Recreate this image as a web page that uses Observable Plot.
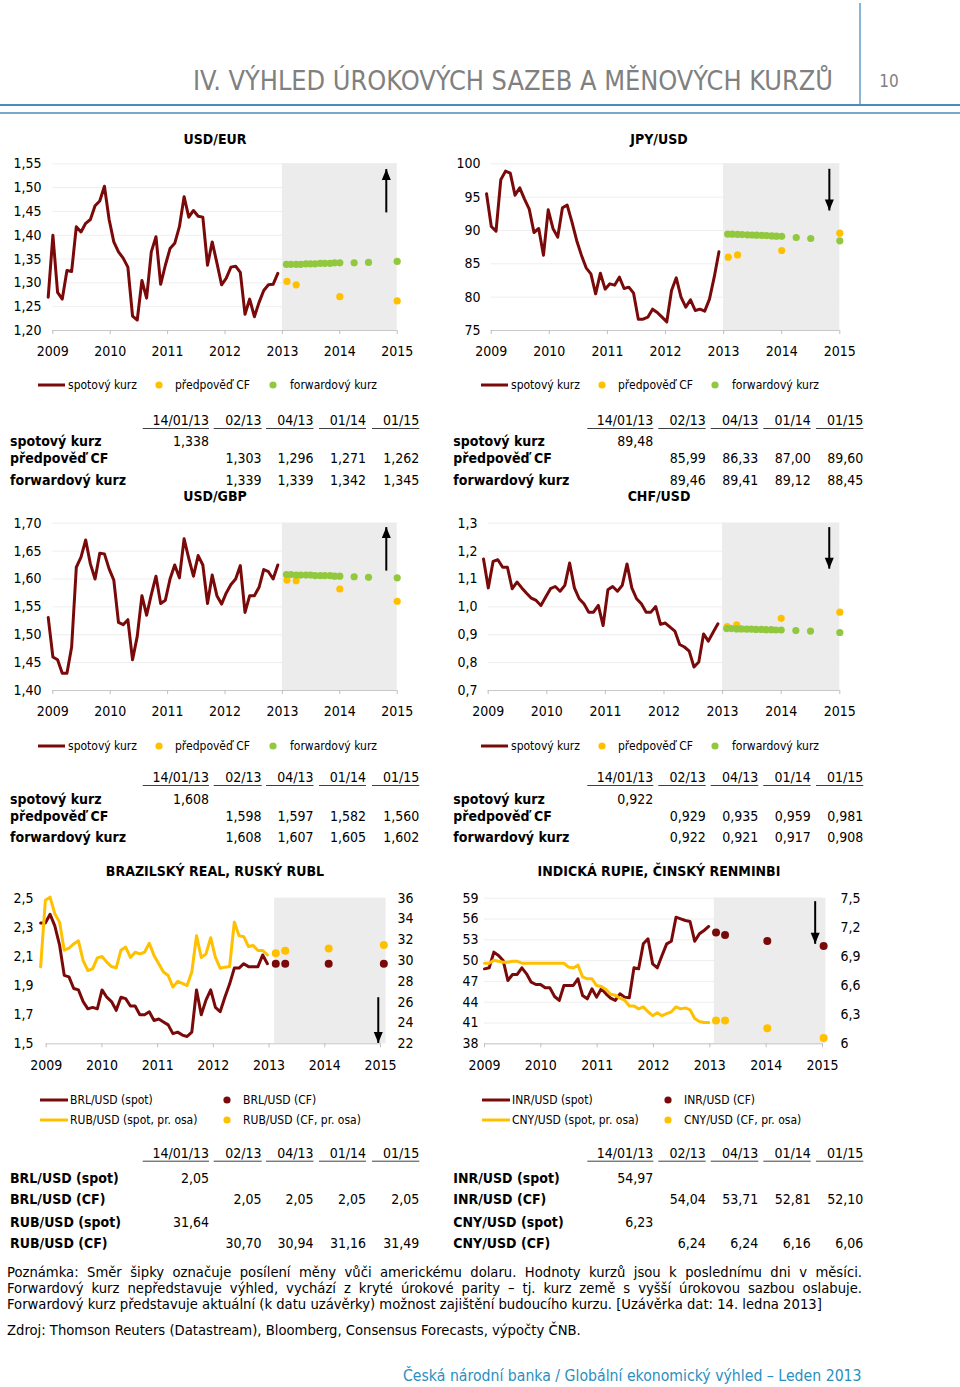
<!DOCTYPE html>
<html><head><meta charset="utf-8">
<script src="https://cdn.jsdelivr.net/npm/d3@7"></script>
<script src="https://cdn.jsdelivr.net/npm/@observablehq/plot@0.6"></script>
<style>
body{margin:0;background:#fff;}
#page{position:relative;width:960px;height:1387px;overflow:hidden;font-family:"DejaVu Sans Condensed","DejaVu Sans",sans-serif;}
#page svg.c{position:absolute;}
</style></head><body><div id="page"></div>
<script>
// ================= DATA =================
const years = [2009, 2010, 2011, 2012, 2013, 2014, 2015];

// spot series, month-end values
const eurSpot = [1.27, 1.40, 1.28, 1.266, 1.326, 1.324, 1.418, 1.407, 1.425, 1.433, 1.462, 1.472, 1.503, 1.433, 1.386, 1.365, 1.352, 1.333, 1.23, 1.222, 1.305, 1.268, 1.365, 1.397, 1.297, 1.337, 1.372, 1.383, 1.418, 1.481, 1.438, 1.452, 1.44, 1.438, 1.337, 1.386, 1.342, 1.296, 1.31, 1.333, 1.335, 1.322, 1.234, 1.266, 1.229, 1.259, 1.284, 1.296, 1.297, 1.32];
const gbpSpot = [1.531, 1.460, 1.455, 1.431, 1.431, 1.478, 1.621, 1.639, 1.670, 1.627, 1.600, 1.646, 1.645, 1.618, 1.598, 1.522, 1.518, 1.527, 1.455, 1.497, 1.570, 1.535, 1.572, 1.605, 1.556, 1.562, 1.600, 1.625, 1.602, 1.672, 1.637, 1.605, 1.642, 1.625, 1.556, 1.607, 1.570, 1.555, 1.575, 1.590, 1.600, 1.624, 1.540, 1.570, 1.570, 1.585, 1.617, 1.613, 1.600, 1.625];
const jpySpot = [95.5, 90.6, 89.9, 97.6, 98.9, 98.6, 95.3, 96.4, 94.7, 93.2, 89.7, 90.3, 86.3, 93.1, 90.3, 89.0, 93.4, 93.8, 91.3, 88.5, 86.3, 84.4, 83.5, 80.5, 83.6, 81.2, 82.0, 81.8, 83.0, 81.3, 81.5, 80.6, 76.7, 76.7, 77.0, 78.2, 77.7, 77.0, 76.3, 81.0, 82.9, 80.0, 78.5, 79.6, 78.0, 78.2, 77.9, 79.7, 83.0, 86.8];
const chfSpot = [1.172, 1.068, 1.163, 1.169, 1.142, 1.142, 1.065, 1.089, 1.068, 1.049, 1.031, 1.023, 1.005, 1.035, 1.065, 1.073, 1.056, 1.077, 1.157, 1.068, 1.029, 1.011, 0.981, 0.981, 1.005, 0.933, 1.061, 1.073, 1.056, 1.077, 1.154, 1.068, 1.029, 1.011, 0.981, 0.981, 1.001, 0.937, 0.942, 0.927, 0.913, 0.865, 0.856, 0.841, 0.784, 0.802, 0.903, 0.877, 0.909, 0.939];
const brlSpot = [2.33, 2.33, 2.39, 2.31, 2.18, 1.97, 1.96, 1.88, 1.87, 1.79, 1.74, 1.75, 1.74, 1.87, 1.82, 1.79, 1.73, 1.82, 1.81, 1.76, 1.76, 1.70, 1.70, 1.72, 1.66, 1.67, 1.65, 1.63, 1.57, 1.58, 1.56, 1.55, 1.58, 1.87, 1.70, 1.80, 1.87, 1.75, 1.72, 1.82, 1.91, 2.02, 2.02, 2.05, 2.03, 2.03, 2.03, 2.11, 2.05];
const rubSpot = [29.4, 35.8, 36.1, 34.5, 33.7, 31.0, 31.2, 31.6, 31.9, 30.0, 29.05, 29.2, 30.26, 30.4, 29.85, 29.43, 29.3, 31.0, 31.3, 30.3, 30.8, 30.65, 30.8, 31.67, 30.5, 29.7, 28.9, 28.57, 27.45, 28.0, 27.8, 27.6, 28.9, 32.4, 30.3, 30.65, 32.2, 30.3, 29.27, 29.37, 29.43, 33.7, 32.4, 32.3, 31.35, 31.45, 30.97, 30.97, 30.55];
const inrSpot = [48.81, 48.96, 51.22, 50.73, 50.0, 47.13, 48.0, 48.0, 48.96, 48.09, 46.89, 46.55, 46.55, 46.07, 46.07, 44.82, 44.25, 46.41, 46.41, 46.41, 47.37, 44.97, 44.49, 45.93, 44.73, 45.93, 45.21, 44.58, 44.25, 45.21, 44.73, 44.63, 48.96, 48.81, 52.42, 53.14, 49.53, 48.96, 50.73, 52.42, 52.8, 56.26, 56.02, 55.78, 55.64, 52.8, 53.86, 54.34, 54.92];
const cnySpot = [6.83, 6.83, 6.86, 6.85, 6.84, 6.84, 6.85, 6.85, 6.83, 6.83, 6.83, 6.83, 6.83, 6.83, 6.83, 6.83, 6.83, 6.83, 6.79, 6.78, 6.81, 6.69, 6.67, 6.67, 6.60, 6.59, 6.56, 6.51, 6.50, 6.47, 6.45, 6.39, 6.39, 6.36, 6.38, 6.33, 6.29, 6.32, 6.29, 6.31, 6.33, 6.38, 6.36, 6.37, 6.35, 6.26, 6.23, 6.22, 6.22];

// spot series placement on the date axis: [first, last] (decimal years)
const spanMajor = [2008.92, 2012.92];
const spanBRL = [2008.90, 2012.97];
const spanINR = [2009.00, 2012.98];

// forecasts (CF) and forward rates
const cfDates = [2013.08, 2013.24, 2014.0, 2015.0];
const fwdDates = [2013.07, 2013.15, 2013.24, 2013.32, 2013.41, 2013.49, 2013.57, 2013.66, 2013.74, 2013.83, 2013.91, 2014.0, 2014.25, 2014.5, 2015.0];
const eurCF = [1.303, 1.296, 1.271, 1.262];
const eurFwd = [1.339, 1.339, 1.339, 1.339, 1.340, 1.340, 1.340, 1.341, 1.341, 1.341, 1.342, 1.342, 1.342, 1.343, 1.345];
const gbpCF = [1.598, 1.597, 1.582, 1.560];
const gbpFwd = [1.608, 1.608, 1.607, 1.607, 1.607, 1.607, 1.606, 1.606, 1.606, 1.606, 1.605, 1.605, 1.604, 1.603, 1.602];
const jpyCF = [85.99, 86.33, 87.00, 89.60];
const jpyFwd = [89.46, 89.45, 89.41, 89.38, 89.35, 89.32, 89.29, 89.26, 89.23, 89.19, 89.15, 89.12, 88.95, 88.80, 88.45];
const chfCF = [0.929, 0.935, 0.959, 0.981];
const chfFwd = [0.922, 0.922, 0.921, 0.921, 0.920, 0.920, 0.919, 0.919, 0.918, 0.918, 0.917, 0.917, 0.915, 0.913, 0.908];
const brlCFDates = [2013.12, 2013.29, 2014.07, 2015.06];
const brlCF = [2.05, 2.05, 2.05, 2.05];
const rubCF = [30.70, 30.94, 31.16, 31.49];
const inrCFDates = [2013.11, 2013.27, 2014.02, 2015.02];
const inrCF = [54.04, 53.71, 52.81, 52.10];
const cnyCF = [6.24, 6.24, 6.16, 6.06];

// forecast area (shaded)
const bandMajor = [2013, 2015];
const bandBRL = [2013.1, 2015.1];
const bandINR = [2013.08, 2015.06];

// axis ticks
const eurTicks = [1.20, 1.25, 1.30, 1.35, 1.40, 1.45, 1.50, 1.55];
const gbpTicks = [1.40, 1.45, 1.50, 1.55, 1.60, 1.65, 1.70];
const jpyTicks = [75, 80, 85, 90, 95, 100];
const chfTicks = [0.7, 0.8, 0.9, 1.0, 1.1, 1.2, 1.3];
const brlTicks = [1.5, 1.7, 1.9, 2.1, 2.3, 2.5];
const rubTicks = [22, 24, 26, 28, 30, 32, 34, 36];
const inrTicks = [38, 41, 44, 47, 50, 53, 56, 59];
const cnyTicks = [6.0, 6.3, 6.6, 6.9, 7.2, 7.5];

// direction arrows: x, from, to
const eurArrow = [{x: 2014.81, from: 1.448, to: 1.539}];
const gbpArrow = [{x: 2014.81, from: 1.615, to: 1.693}];
const jpyArrow = [{x: 2014.82, from: 99.25, to: 93.0}];
const chfArrow = [{x: 2014.82, from: 1.286, to: 1.137}];
const brlArrow = [{x: 2014.96, from: 1.82, to: 1.506}];
const inrArrow = [{x: 2014.87, from: 58.57, to: 52.42}];

// tables
const tblCols = ["14/01/13", "02/13", "04/13", "01/14", "01/15"];
const eurRows = [["spotový kurz", "1,338", "", "", "", ""], ["předpověď CF", "", "1,303", "1,296", "1,271", "1,262"], ["forwardový kurz", "", "1,339", "1,339", "1,342", "1,345"]];
const jpyRows = [["spotový kurz", "89,48", "", "", "", ""], ["předpověď CF", "", "85,99", "86,33", "87,00", "89,60"], ["forwardový kurz", "", "89,46", "89,41", "89,12", "88,45"]];
const gbpRows = [["spotový kurz", "1,608", "", "", "", ""], ["předpověď CF", "", "1,598", "1,597", "1,582", "1,560"], ["forwardový kurz", "", "1,608", "1,607", "1,605", "1,602"]];
const chfRows = [["spotový kurz", "0,922", "", "", "", ""], ["předpověď CF", "", "0,929", "0,935", "0,959", "0,981"], ["forwardový kurz", "", "0,922", "0,921", "0,917", "0,908"]];
const brlRows = [["BRL/USD (spot)", "2,05", "", "", "", ""], ["BRL/USD (CF)", "", "2,05", "2,05", "2,05", "2,05"], ["RUB/USD (spot)", "31,64", "", "", "", ""], ["RUB/USD (CF)", "", "30,70", "30,94", "31,16", "31,49"]];
const inrRows = [["INR/USD (spot)", "54,97", "", "", "", ""], ["INR/USD (CF)", "", "54,04", "53,71", "52,81", "52,10"], ["CNY/USD (spot)", "6,23", "", "", "", ""], ["CNY/USD (CF)", "", "6,24", "6,24", "6,16", "6,06"]];

const pageTitle = "IV. VÝHLED ÚROKOVÝCH SAZEB A MĚNOVÝCH KURZŮ";
const noteLines = [
  "Poznámka: Směr šipky označuje posílení měny vůči americkému dolaru. Hodnoty kurzů jsou k poslednímu dni v měsíci.",
  "Forwardový kurz nepředstavuje výhled, vychází z kryté úrokové parity – tj. kurz země s vyšší úrokovou sazbou oslabuje.",
  "Forwardový kurz představuje aktuální (k datu uzávěrky) možnost zajištění budoucího kurzu. [Uzávěrka dat: 14. ledna 2013]"
];
const sourceLine = "Zdroj: Thomson Reuters (Datastream), Bloomberg, Consensus Forecasts, výpočty ČNB.";
const footerLine = "Česká národní banka / Globální ekonomický výhled – Leden 2013";

// ================= STYLE =================
const FONT = "'DejaVu Sans Condensed','DejaVu Sans',sans-serif";
const MAROON = "#7a0a0a", YELLOW = "#ffc000", GREEN = "#92c83e", BAND = "#ececec", GRID = "#eeeeee", BLUE = "#4a8cbc";
const commaFmt = (k) => (v) => v.toFixed(k).replace(".", ",");

const page = document.getElementById("page");

function series(values, span, map = (v) => v) {
  const step = (span[1] - span[0]) / (values.length - 1);
  return values.map((v, i) => ({x: span[0] + i * step, y: map(v)}));
}
const pts = (xs, ys, map = (v) => v) => xs.map((x, i) => ({x, y: map(ys[i])}));

const upHead = {draw(ctx) { ctx.moveTo(0, 0); ctx.lineTo(4.5, 11); ctx.lineTo(-4.5, 11); ctx.closePath(); }};
const downHead = {draw(ctx) { ctx.moveTo(0, 0); ctx.lineTo(4.5, -11); ctx.lineTo(-4.5, -11); ctx.closePath(); }};

function chart(c) {
  const marks = [];
  if (c.grid) marks.push(Plot.ruleY(c.yTicks, {stroke: GRID}));
  marks.push(Plot.rect([{x1: c.band[0], x2: c.band[1], y1: c.yDomain[0], y2: c.yDomain[1]}], {x1: "x1", x2: "x2", y1: "y1", y2: "y2", fill: BAND}));
  marks.push(Plot.ruleY([c.yDomain[0]], {stroke: "#c8c8c8"}));
  marks.push(Plot.axisX(years, {tickSize: 4, tickPadding: 12, tickFormat: (d) => String(d), stroke: "#bfbfbf", fill: "black"}));
  marks.push(Plot.axisY(c.yTicks, {tickSize: 0, tickPadding: c.padY, tickFormat: c.yFmt}));
  if (c.right) marks.push(Plot.axisY(c.right.ticks.map(c.right.toLeft), {anchor: "right", tickSize: 0, tickPadding: c.right.pad, tickFormat: c.right.fmt}));
  for (const l of c.lines) marks.push(Plot.line(l.data, {x: "x", y: "y", stroke: l.color, strokeWidth: 3, strokeLinejoin: "round"}));
  for (const d of c.dots) marks.push(Plot.dot(d.data, {x: "x", y: "y", r: d.r || 3.6, fill: d.color}));
  const up = c.arrow[0].to > c.arrow[0].from;
  marks.push(Plot.link(c.arrow, {x1: "x", x2: "x", y1: "from", y2: "to", stroke: "black", strokeWidth: 2}));
  marks.push(Plot.dot(c.arrow, {x: "x", y: "to", symbol: up ? upHead : downHead, r: 5, fill: "black"}));
  const svg = Plot.plot({
    width: c.width, height: c.height,
    marginTop: c.mt, marginBottom: c.mb, marginLeft: c.ml, marginRight: c.mr,
    x: {domain: [2009, 2015]}, y: {domain: c.yDomain},
    style: {fontFamily: FONT, fontSize: "14px", color: "black", background: "transparent", overflow: "visible"},
    marks
  });
  svg.classList.add("c");
  svg.style.left = c.left + "px";
  svg.style.top = c.top + "px";
  page.appendChild(svg);
}

// ---- charts ----
chart({left: 0, top: 150, width: 420, height: 210, mt: 13.3, mb: 30, ml: 52.3, mr: 23.3,
  yDomain: [1.20, 1.55], yTicks: eurTicks, yFmt: commaFmt(2), padY: 11.3, grid: true, band: bandMajor,
  lines: [{data: series(eurSpot, spanMajor), color: MAROON}],
  dots: [{data: pts(cfDates, eurCF), color: YELLOW}, {data: pts(fwdDates, eurFwd), color: GREEN}],
  arrow: eurArrow});
chart({left: 440, top: 150, width: 420, height: 210, mt: 13.3, mb: 30, ml: 50.7, mr: 20.7,
  yDomain: [75, 100], yTicks: jpyTicks, yFmt: (d) => String(d), padY: 10.7, grid: true, band: bandMajor,
  lines: [{data: series(jpySpot, spanMajor), color: MAROON}],
  dots: [{data: pts(cfDates, jpyCF), color: YELLOW}, {data: pts(fwdDates, jpyFwd), color: GREEN}],
  arrow: jpyArrow});
chart({left: 0, top: 510, width: 420, height: 210, mt: 12.7, mb: 30, ml: 52.3, mr: 23.3,
  yDomain: [1.40, 1.70], yTicks: gbpTicks, yFmt: commaFmt(2), padY: 11.3, grid: true, band: bandMajor,
  lines: [{data: series(gbpSpot, spanMajor), color: MAROON}],
  dots: [{data: pts(cfDates, gbpCF), color: YELLOW}, {data: pts(fwdDates, gbpFwd), color: GREEN}],
  arrow: gbpArrow});
chart({left: 440, top: 510, width: 420, height: 210, mt: 12.7, mb: 30, ml: 47.7, mr: 20.7,
  yDomain: [0.7, 1.3], yTicks: chfTicks, yFmt: commaFmt(1), padY: 10.7, grid: true, band: bandMajor,
  lines: [{data: series(chfSpot, spanMajor), color: MAROON}],
  dots: [{data: pts(cfDates, chfCF), color: YELLOW}, {data: pts(fwdDates, chfFwd), color: GREEN}],
  arrow: chfArrow});

const rubToLeft = (v) => 1.5 + (v - 22) / 14, rubFromLeft = (v) => 22 + (v - 1.5) * 14;
chart({left: 0, top: 885, width: 430, height: 188.3, mt: 12.7, mb: 30, ml: 45.7, mr: 50,
  yDomain: [1.5, 2.5], yTicks: brlTicks, yFmt: commaFmt(1), padY: 12.7, grid: false, band: bandBRL,
  right: {ticks: rubTicks, toLeft: rubToLeft, pad: 17, fmt: (v) => String(Math.round(rubFromLeft(v)))},
  lines: [{data: series(brlSpot, spanBRL), color: MAROON}, {data: series(rubSpot, spanBRL, rubToLeft), color: YELLOW}],
  dots: [{data: pts(brlCFDates, brlCF), color: MAROON, r: 4}, {data: pts(brlCFDates, rubCF, rubToLeft), color: YELLOW, r: 4}],
  arrow: brlArrow});
const cnyToLeft = (v) => 38 + (v - 6) * 14, cnyFromLeft = (v) => 6 + (v - 38) / 14;
chart({left: 440, top: 885, width: 430, height: 188.3, mt: 12.7, mb: 30, ml: 44, mr: 48,
  yDomain: [38, 59], yTicks: inrTicks, yFmt: (d) => String(d), padY: 6, grid: true, band: bandINR,
  right: {ticks: cnyTicks, toLeft: cnyToLeft, pad: 18, fmt: (v) => String(Math.round(cnyFromLeft(v) * 10) / 10).replace(".", ",")},
  lines: [{data: series(inrSpot, spanINR), color: MAROON}, {data: series(cnySpot, spanINR, cnyToLeft), color: YELLOW}],
  dots: [{data: pts(inrCFDates, inrCF), color: MAROON, r: 4}, {data: pts(inrCFDates, cnyCF, cnyToLeft), color: YELLOW, r: 4}],
  arrow: inrArrow});

// ================= TEXT / DECORATION OVERLAY =================
const ov = d3.select(page).insert("svg", ":first-child")
  .attr("width", 960).attr("height", 1387)
  .style("position", "absolute").style("left", 0).style("top", 0)
  .style("font-family", FONT);

function T(x, y, s, o = {}) {
  const t = ov.append("text").attr("x", x).attr("y", y).attr("dy", "0.36em")
    .attr("text-anchor", o.anchor || "start")
    .attr("font-size", o.size || 14).attr("font-weight", o.weight || "normal")
    .attr("fill", o.fill || "#000").text(s);
  if (o.family) t.attr("font-family", o.family);
  if (o.len) t.attr("textLength", o.len).attr("lengthAdjust", o.adjust || "spacing");
  return t;
}
function L(x1, y1, x2, y2, color, w) {
  ov.append("line").attr("x1", x1).attr("y1", y1).attr("x2", x2).attr("y2", y2).attr("stroke", color).attr("stroke-width", w);
}
// text sized so its natural width equals `width`
function fitSize(x, y, s, width, o = {}) {
  const t = T(x, y, s, {...o, size: 13});
  const w = t.node().getComputedTextLength();
  const size = 13 * width / w;
  t.attr("font-size", size);
  return size;
}
// text justified to `width` by word spacing
function justify(x, y, s, width, size, o = {}) {
  const t = T(x, y, s, {...o, size});
  const w = t.node().getComputedTextLength();
  const n = (s.match(/ /g) || []).length;
  if (n) t.attr("word-spacing", (width - w) / n);
  return t;
}

// header
L(860, 3, 860, 105, BLUE, 1.3);
L(0, 105, 960, 105, BLUE, 2);
L(0, 113, 960, 113, BLUE, 1.3);
T(193, 80, pageTitle, {size: 27, fill: "#808080", family: "'Liberation Sans Narrow','DejaVu Sans Condensed',sans-serif", len: 640, adjust: "spacingAndGlyphs"});
T(889, 81, "10", {size: 17, fill: "#808080", anchor: "middle"});

// chart titles
T(215, 139, "USD/EUR", {weight: "bold", anchor: "middle"});
T(659, 139, "JPY/USD", {weight: "bold", anchor: "middle"});
T(215, 496, "USD/GBP", {weight: "bold", anchor: "middle"});
T(659, 496, "CHF/USD", {weight: "bold", anchor: "middle"});
T(215, 871, "BRAZILSKÝ REAL, RUSKÝ RUBL", {weight: "bold", anchor: "middle"});
T(659, 871, "INDICKÁ RUPIE, ČINSKÝ RENMINBI", {weight: "bold", anchor: "middle"});

// legends (spot / CF / forward)
function legend3(y, xs) {
  L(xs[0], y, xs[0] + 27, y, MAROON, 3);
  T(xs[0] + 30, y, "spotový kurz", {size: 12});
  ov.append("circle").attr("cx", xs[1]).attr("cy", y).attr("r", 3.6).attr("fill", YELLOW);
  T(xs[1] + 16, y, "předpověď CF", {size: 12});
  ov.append("circle").attr("cx", xs[2]).attr("cy", y).attr("r", 3.6).attr("fill", GREEN);
  T(xs[2] + 17, y, "forwardový kurz", {size: 12});
}
legend3(385, [38, 159, 273]);
legend3(385, [481, 602, 715]);
legend3(746, [38, 159, 273]);
legend3(746, [481, 602, 715]);

function legend4(y1, y2, x0, xd, names) {
  L(x0, y1, x0 + 28, y1, MAROON, 3);
  T(x0 + 30, y1, names[0], {size: 12});
  ov.append("circle").attr("cx", xd).attr("cy", y1).attr("r", 3.6).attr("fill", MAROON);
  T(xd + 16, y1, names[1], {size: 12});
  L(x0, y2, x0 + 28, y2, YELLOW, 3);
  T(x0 + 30, y2, names[2], {size: 12});
  ov.append("circle").attr("cx", xd).attr("cy", y2).attr("r", 3.6).attr("fill", YELLOW);
  T(xd + 16, y2, names[3], {size: 12});
}
legend4(1100, 1120, 40, 227, ["BRL/USD (spot)", "BRL/USD (CF)", "RUB/USD (spot, pr. osa)", "RUB/USD (CF, pr. osa)"]);
legend4(1100, 1120, 482, 668, ["INR/USD (spot)", "INR/USD (CF)", "CNY/USD (spot, pr. osa)", "CNY/USD (CF, pr. osa)"]);

// tables
const colRightL = [209, 261.5, 313.5, 366, 419.3];
const colLineL = [[142.7, 209], [213.7, 261.7], [266, 313.5], [319, 366], [372, 419.3]];
const colRightR = [653.3, 705.7, 758.3, 810.7, 863.3];
const colLineR = [[587.3, 653.3], [658.3, 705.7], [710.7, 758.3], [763.3, 810.7], [816, 863.3]];
function table(labelX, rights, spans, yHead, rowYs, rows) {
  tblCols.forEach((h, i) => {
    T(rights[i], yHead, h, {anchor: "end"});
    L(spans[i][0], yHead + 8.5, spans[i][1], yHead + 8.5, "#404040", 1);
  });
  rows.forEach((r, j) => {
    T(labelX, rowYs[j], r[0], {weight: "bold"});
    for (let i = 1; i < r.length; i++) if (r[i]) T(rights[i - 1], rowYs[j], r[i], {anchor: "end"});
  });
}
table(10, colRightL, colLineL, 420, [441, 458, 480], eurRows);
table(453.3, colRightR, colLineR, 420, [441, 458, 480], jpyRows);
table(10, colRightL, colLineL, 777, [799, 815.5, 837], gbpRows);
table(453.3, colRightR, colLineR, 777, [799, 815.5, 837], chfRows);
table(10, colRightL, colLineL, 1152.7, [1178.3, 1199.3, 1221.7, 1243.3], brlRows);
table(453.3, colRightR, colLineR, 1152.7, [1178.3, 1199.3, 1221.7, 1243.3], inrRows);

// notes
const noteSize = fitSize(7, 1304, noteLines[2], 816);
justify(7, 1272, noteLines[0], 855, noteSize);
justify(7, 1288, noteLines[1], 855, noteSize);
T(7, 1330, sourceLine, {size: noteSize});
fitSize(403, 1375, footerLine, 459, {fill: "#2a8fbf"});
</script></body></html>
